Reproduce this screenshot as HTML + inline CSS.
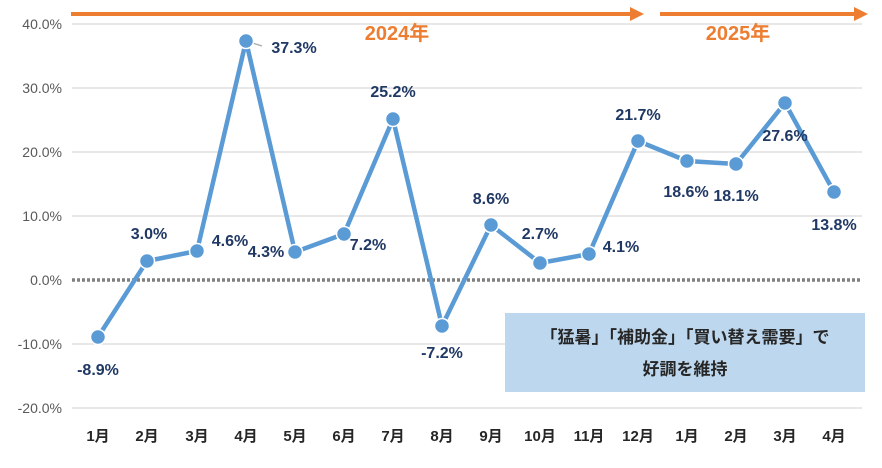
<!DOCTYPE html>
<html><head><meta charset="utf-8"><style>
body{margin:0;background:#fff;}
svg text{font-family:"Liberation Sans","Noto Sans CJK JP",sans-serif;}
</style></head><body>
<svg width="882" height="463" xmlns="http://www.w3.org/2000/svg">
<g stroke="#d9d9d9" stroke-width="1.3">
<line x1="72" y1="24" x2="862" y2="24"/><line x1="72" y1="88" x2="862" y2="88"/>
<line x1="72" y1="152" x2="862" y2="152"/><line x1="72" y1="216" x2="862" y2="216"/>
<line x1="72" y1="344" x2="862" y2="344"/><line x1="72" y1="408" x2="862" y2="408"/>
</g>
<line x1="72" y1="280" x2="862" y2="280" stroke="#7f7f7f" stroke-width="3.5" stroke-dasharray="3,2"/>
<g font-size="14" fill="#595959" text-anchor="end">
<text x="62" y="29">40.0%</text><text x="62" y="93">30.0%</text><text x="62" y="157">20.0%</text>
<text x="62" y="221">10.0%</text><text x="62" y="285">0.0%</text><text x="62" y="349">-10.0%</text><text x="62" y="413">-20.0%</text>
</g>
<line x1="71" y1="14" x2="632" y2="14" stroke="#ed7d31" stroke-width="4"/>
<polygon points="630,7 644,14 630,21" fill="#ed7d31"/>
<line x1="660" y1="14" x2="856" y2="14" stroke="#ed7d31" stroke-width="4"/>
<polygon points="854,7 868,14 854,21" fill="#ed7d31"/>
<text x="397" y="40" font-size="20" font-weight="bold" fill="#ed7d31" text-anchor="middle">2024年</text>
<text x="738" y="40" font-size="20" font-weight="bold" fill="#ed7d31" text-anchor="middle">2025年</text>
<rect x="505" y="313" width="360" height="79" fill="#bdd7ee"/>
<g font-size="17" font-weight="bold" fill="#262626" text-anchor="middle">
<text x="685" y="343">「猛暑」「補助金」「買い替え需要」で</text>
<text x="685" y="375">好調を維持</text>
</g>
<line x1="246" y1="41" x2="262" y2="46" stroke="#a6a6a6" stroke-width="1.3"/>
<polyline fill="none" stroke="#5b9bd5" stroke-width="4.5" stroke-linejoin="round"
points="98,337 147,261 197,251 246,41 295,252 344,234 393,119 442,326 491,225 540,263 589,254 638,141 687,161 736,164 785,103 834,192"/>
<g fill="#5b9bd5" stroke="#fff" stroke-width="1.5">
<circle cx="98" cy="337" r="7.5"/><circle cx="147" cy="261" r="7.5"/><circle cx="197" cy="251" r="7.5"/><circle cx="246" cy="41" r="7.5"/>
<circle cx="295" cy="252" r="7.5"/><circle cx="344" cy="234" r="7.5"/><circle cx="393" cy="119" r="7.5"/><circle cx="442" cy="326" r="7.5"/>
<circle cx="491" cy="225" r="7.5"/><circle cx="540" cy="263" r="7.5"/><circle cx="589" cy="254" r="7.5"/><circle cx="638" cy="141" r="7.5"/>
<circle cx="687" cy="161" r="7.5"/><circle cx="736" cy="164" r="7.5"/><circle cx="785" cy="103" r="7.5"/><circle cx="834" cy="192" r="7.5"/>
</g>
<g font-size="16" font-weight="bold" fill="#1f3864" text-anchor="middle">
<text x="98" y="375">-8.9%</text><text x="149" y="239">3.0%</text><text x="230" y="246">4.6%</text>
<text x="294" y="53">37.3%</text><text x="266" y="257">4.3%</text><text x="368" y="250">7.2%</text>
<text x="393" y="97">25.2%</text><text x="442" y="358">-7.2%</text><text x="491" y="204">8.6%</text>
<text x="540" y="239">2.7%</text><text x="621" y="252">4.1%</text><text x="638" y="120">21.7%</text>
<text x="686" y="197">18.6%</text><text x="736" y="201">18.1%</text><text x="785" y="141">27.6%</text><text x="834" y="230">13.8%</text>
</g>
<g font-size="15" font-weight="bold" fill="#262626" text-anchor="middle">
<text x="98" y="441">1月</text><text x="147" y="441">2月</text><text x="197" y="441">3月</text><text x="246" y="441">4月</text>
<text x="295" y="441">5月</text><text x="344" y="441">6月</text><text x="393" y="441">7月</text><text x="442" y="441">8月</text>
<text x="491" y="441">9月</text><text x="540" y="441">10月</text><text x="589" y="441">11月</text><text x="638" y="441">12月</text>
<text x="687" y="441">1月</text><text x="736" y="441">2月</text><text x="785" y="441">3月</text><text x="834" y="441">4月</text>
</g>
</svg>
</body></html>
